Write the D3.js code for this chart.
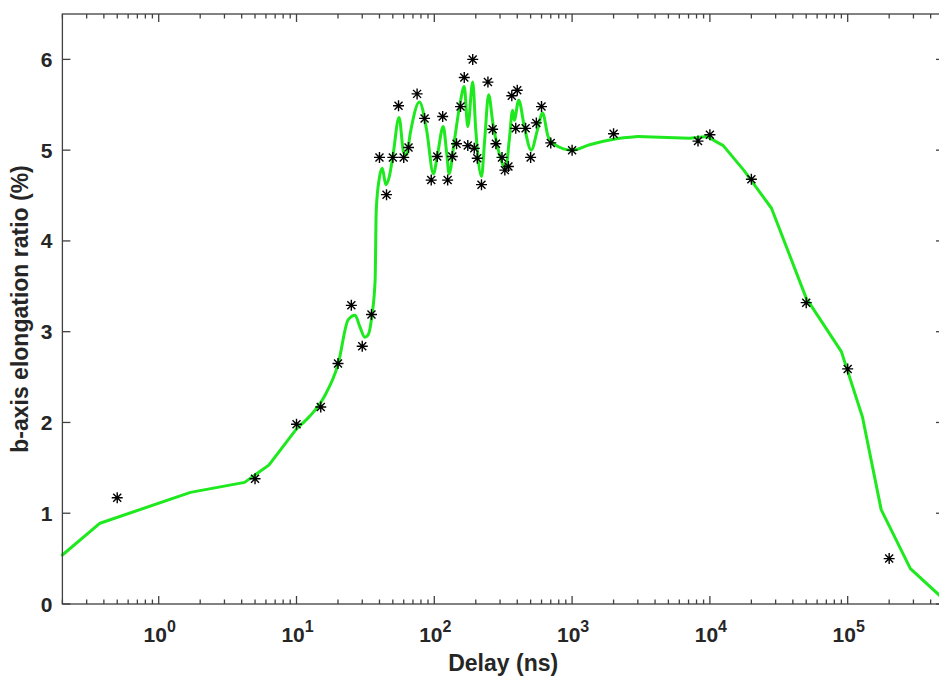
<!DOCTYPE html>
<html>
<head>
<meta charset="utf-8">
<script src="https://cdn.jsdelivr.net/npm/d3@7"></script>
<style>
  html, body { margin: 0; padding: 0; background: #ffffff; }
  svg { display: block; }
  text { font-family: "Liberation Sans", Arial, sans-serif; font-weight: bold; fill: #262626; }
</style>
</head>
<body>
<svg id="chart" width="939" height="678"></svg>
<script>
// ---- data ----
const pointDelay = [0.5, 5, 10, 15, 20, 25, 30, 35, 40, 45, 50, 55, 60, 65, 75, 85, 95, 105, 115, 125, 135, 145, 155, 165, 175, 190, 195, 205, 220, 245, 265, 280, 310, 325, 345, 365, 390, 400, 460, 500, 550, 600, 700, 1000, 2000, 8200, 10000, 20000, 50000, 100000, 200000];
const pointRatio = [1.17, 1.38, 1.98, 2.17, 2.65, 3.29, 2.84, 3.19, 4.92, 4.51, 4.92, 5.49, 4.92, 5.03, 5.62, 5.35, 4.67, 4.93, 5.37, 4.67, 4.93, 5.07, 5.48, 5.80, 5.05, 6.00, 5.02, 4.91, 4.62, 5.75, 5.23, 5.07, 4.92, 4.78, 4.82, 5.60, 5.24, 5.66, 5.24, 4.92, 5.30, 5.48, 5.08, 5.00, 5.18, 5.10, 5.17, 4.68, 3.32, 2.59, 0.50];

const curveDelay = [0.2, 0.375, 1.7, 4.2, 6.3, 10, 12.5, 15.7, 20.1, 23.7, 26.6, 28.9, 31.3, 33, 35.2, 37.2, 37.9, 40, 41.9, 44.5, 47, 50, 55.5, 60, 63, 67, 78, 88, 98.5, 106, 116, 123, 128, 140, 154, 165, 175, 190, 200, 220, 232, 248, 266, 295, 330, 350, 370, 380, 410, 450, 505, 560, 610, 670, 750, 1000, 1340, 2000, 3000, 7100, 9500, 12500, 17600, 28000, 50000, 90000, 128000, 175000, 285000, 500000];
const curveRatio = [0.54, 0.89, 1.23, 1.34, 1.53, 1.93, 2.07, 2.27, 2.65, 3.13, 3.18, 3.05, 2.94, 2.96, 3.17, 3.57, 4.34, 4.70, 4.80, 4.62, 4.70, 4.93, 5.36, 4.97, 4.95, 5.19, 5.53, 5.22, 4.74, 4.97, 5.26, 4.97, 4.74, 5.11, 5.52, 5.70, 5.26, 5.75, 5.22, 4.71, 5.11, 5.61, 5.30, 4.97, 4.80, 5.11, 5.44, 5.33, 5.55, 5.26, 5.00, 5.22, 5.41, 5.15, 5.06, 5.00, 5.06, 5.12, 5.15, 5.13, 5.15, 5.05, 4.78, 4.36, 3.37, 2.78, 2.06, 1.04, 0.39, 0.05];

const xDomain = [0.2, 5e5];
const yDomain = [0, 6.5];
const xMajorExp = [0, 1, 2, 3, 4, 5];
const yTicks = [0, 1, 2, 3, 4, 5, 6];
const xLabel = "Delay (ns)";
const yLabel = "b-axis elongation ratio (%)";

// ---- layout ----
const L = 62.4, R = 944, T = 14, B = 604;
const svg = d3.select("#chart");
const x = d3.scaleLog().domain(xDomain).range([L, R]);
const y = d3.scaleLinear().domain(yDomain).range([B, T]);
const axisColor = "#404040";

// minor ticks for log axis
const minor = [];
for (let e = -1; e <= 5; e++) {
  for (let m = 1; m <= 9; m++) {
    const v = m * Math.pow(10, e);
    if (v >= xDomain[0] && v <= xDomain[1]) minor.push(v);
  }
}
const majorVals = xMajorExp.map(e => Math.pow(10, e));

// curve: straight segments at both ends, smooth through the oscillating middle
const idx = d3.range(curveDelay.length);
const smoothLo = 10, smoothHi = 3000;
const parts = [
  { ids: idx.filter(i => curveDelay[i] <= smoothLo), curve: d3.curveLinear },
  { ids: idx.filter(i => curveDelay[i] >= smoothLo && curveDelay[i] <= smoothHi), curve: d3.curveMonotoneX },
  { ids: idx.filter(i => curveDelay[i] >= smoothHi), curve: d3.curveLinear }
];
const gLine = svg.append("g");
parts.forEach(p => {
  const ln = d3.line().x(i => x(curveDelay[i])).y(i => y(curveRatio[i])).curve(p.curve);
  gLine.append("path")
    .attr("d", ln(p.ids))
    .attr("fill", "none")
    .attr("stroke", "#1ee81e")
    .attr("stroke-width", 3)
    .attr("stroke-linejoin", "round")
    .attr("stroke-linecap", "round");
});

// asterisk markers
const s = 5.5, dg = 4;
const star = `M${-s},0H${s}M0,${-s}V${s}M${-dg},${-dg}L${dg},${dg}M${-dg},${dg}L${dg},${-dg}`;
svg.append("g").selectAll("path").data(pointDelay).join("path")
  .attr("transform", (d, i) => `translate(${x(d)},${y(pointRatio[i])})`)
  .attr("d", star)
  .attr("stroke", "#000")
  .attr("stroke-width", 1.4)
  .attr("fill", "none");

// axes box
const axes = svg.append("g").attr("stroke", axisColor).attr("stroke-width", 1.3).attr("fill", "none");
axes.append("rect").attr("x", L).attr("y", T).attr("width", R - L).attr("height", B - T);

// x ticks (bottom and top, inward)
minor.forEach(v => {
  const isMajor = majorVals.some(m => Math.abs(m - v) / m < 1e-9);
  const len = isMajor ? 8 : 4.5;
  axes.append("line").attr("x1", x(v)).attr("x2", x(v)).attr("y1", B).attr("y2", B - len);
  axes.append("line").attr("x1", x(v)).attr("x2", x(v)).attr("y1", T).attr("y2", T + len);
});
// y ticks (left and right, inward)
yTicks.forEach(v => {
  axes.append("line").attr("x1", L).attr("x2", L + 8).attr("y1", y(v)).attr("y2", y(v));
  axes.append("line").attr("x1", R).attr("x2", R - 8).attr("y1", y(v)).attr("y2", y(v));
});

// y tick labels
svg.append("g").selectAll("text").data(yTicks).join("text")
  .attr("x", L - 10)
  .attr("y", d => y(d) + 7.5)
  .attr("text-anchor", "end")
  .attr("font-size", 21)
  .text(d => d);

// x tick labels with superscripts
const xl = svg.append("g").selectAll("text").data(xMajorExp).join("text")
  .attr("x", d => x(Math.pow(10, d)) + 1)
  .attr("y", 642)
  .attr("text-anchor", "middle")
  .attr("font-size", 21);
xl.append("tspan").text("10");
xl.append("tspan").attr("dy", -10).attr("font-size", 16).text(d => d);

// axis titles
svg.append("text")
  .attr("x", (L + R) / 2)
  .attr("y", 671)
  .attr("text-anchor", "middle")
  .attr("font-size", 23)
  .text(xLabel);
svg.append("text")
  .attr("transform", `translate(28,${(T + B) / 2}) rotate(-90)`)
  .attr("text-anchor", "middle")
  .attr("font-size", 23)
  .text(yLabel);
</script>
</body>
</html>
